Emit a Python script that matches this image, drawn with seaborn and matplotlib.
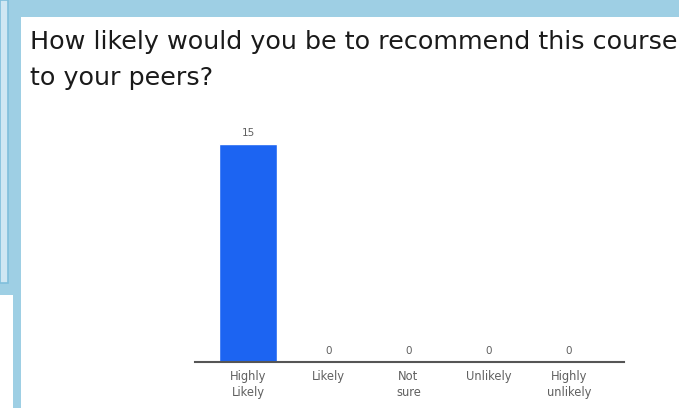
import matplotlib
matplotlib.use("Agg")
import matplotlib.pyplot as plt
import seaborn as sns
import pandas as pd
from matplotlib.patches import Rectangle

categories = ["Highly\nLikely", "Likely", "Not\nsure", "Unlikely", "Highly\nunlikely"]
counts = [15, 0, 0, 0, 0]
title = "How likely would you be to recommend this course\nto your peers?"

sns.set_theme(style="white")
plt.rcParams['font.family'] = ['DejaVu Sans']

W, H = 679, 408
fig = plt.figure(figsize=(W / 100, H / 100), dpi=100)
fig.patch.set_facecolor("#9ecfe4")

def px(x0, y0, w, h):
    return [x0 / W, 1 - (y0 + h) / H, w / W, h / H]

# side panels (screenshot background)
fig.patches.append(Rectangle((0, 1 - 283 / H), 8 / W, 283 / H, transform=fig.transFigure,
                             facecolor="#cfe7f3", edgecolor="#7fbfdc", lw=1.2, zorder=-5))
fig.patches.append(Rectangle((0, 0), 13 / W, (H - 295) / H, transform=fig.transFigure,
                             facecolor="white", edgecolor="none", zorder=-5))
# white card
fig.patches.append(Rectangle((21 / W, 0), (W - 21) / W, (H - 17) / H, transform=fig.transFigure,
                             facecolor="white", edgecolor="none", zorder=-5))

fig.text(30 / W, 1 - 30 / H, title, fontsize=18.3, family=["DejaVu Sans"],
         color="#1a1a1a", va="top", ha="left", linespacing=1.62)

ax = fig.add_axes(px(195, 144, 429, 218))
df = pd.DataFrame({"cat": categories, "n": counts})
sns.barplot(data=df, x="cat", y="n", color="#1c64f2", saturation=1, width=0.72, ax=ax)
ax.set_xlim(-0.66, 4.685)
ax.set_ylim(0, 15)
ax.set_facecolor("none")
for s in ["top", "right", "left"]:
    ax.spines[s].set_visible(False)
ax.spines["bottom"].set_color("#555555")
ax.spines["bottom"].set_linewidth(1.5)
ax.set_yticks([])
ax.set_xlabel("")
ax.set_ylabel("")
ax.tick_params(axis="x", length=0, pad=6, labelsize=8.3, labelcolor="#606060")
for lab in ax.get_xticklabels():
    lab.set_linespacing(1.3)
for i, v in enumerate(counts):
    ax.annotate(str(v), (i, v), xytext=(0, 4), textcoords="offset points",
                ha="center", va="bottom", fontsize=7.5, color="#606060")

fig.savefig("out.png", dpi=100, facecolor=fig.get_facecolor())
